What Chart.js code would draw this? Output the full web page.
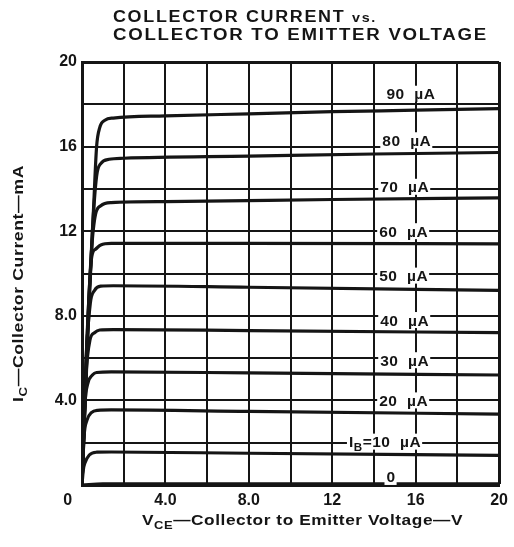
<!DOCTYPE html>
<html lang="en">
<head>
<meta charset="UTF-8">
<title>Collector Current vs. Collector to Emitter Voltage</title>
<script src="https://cdn.jsdelivr.net/npm/chart.js"></script>
<style>
  body { margin: 0; background: #fff; }
  canvas { display: block; }
</style>
</head>
<body>
<canvas id="ivChart" width="514" height="547"></canvas>
<script>
// base current of each curve (µA)
const baseCurrents = [90, 80, 70, 60, 50, 40, 30, 20, 10, 0];

// points: [V_CE in V, I_C in mA]
const curve90 = [[0,0],[0.3,8],[0.55,13],[0.7,16],[0.85,16.9],[1.1,17.25],[1.5,17.35],[4,17.45],[8,17.55],[12,17.65],[16,17.72],[20,17.8]];
const curve80 = [[0,0],[0.3,7.5],[0.5,12],[0.7,14.6],[0.9,15.2],[1.3,15.4],[2,15.45],[8,15.55],[14,15.65],[20,15.72]];
const curve70 = [[0,0],[0.25,7],[0.45,11],[0.65,12.8],[0.9,13.2],[1.4,13.35],[4,13.4],[12,13.5],[20,13.58]];
const curve60 = [[0,0],[0.22,6.5],[0.47,10.8],[0.65,11.15],[0.9,11.35],[1.4,11.42],[8,11.42],[20,11.4]];
const curve50 = [[0,0],[0.2,6],[0.4,8.6],[0.6,9.2],[0.9,9.4],[1.5,9.42],[8,9.35],[20,9.2]];
const curve40 = [[0,0],[0.18,5],[0.38,6.85],[0.6,7.2],[0.85,7.33],[1.5,7.35],[8,7.3],[20,7.2]];
const curve30 = [[0,0],[0.14,3.8],[0.28,4.8],[0.5,5.2],[0.7,5.32],[1.4,5.35],[8,5.3],[20,5.2]];
const curve20 = [[0,0],[0.1,2.3],[0.24,3.07],[0.45,3.42],[0.75,3.53],[1.4,3.55],[8,3.48],[20,3.35]];
const curve10 = [[0,0],[0.06,0.7],[0.14,1.04],[0.35,1.42],[0.7,1.55],[1.4,1.56],[8,1.5],[20,1.4]];
const curve0  = [[0,0],[1,0.05],[20,0.05]];
const curves = [curve90, curve80, curve70, curve60, curve50, curve40, curve30, curve20, curve10, curve0];

// tick labels
const xTickValues = [4, 8, 12, 16, 20];
const xTickLabels = ['4.0', '8.0', '12', '16', '20'];
const yTickValues = [4, 8, 12, 16, 20];
const yTickLabels = ['4.0', '8.0', '12', '16', '20'];
const originLabel = '0';

// curve labels, placed in data units (left edge V, centre mA)
const curveLabels = [
  { runs: [['90  µA']], v: 14.6, i: 18.5 },
  { runs: [['80  µA']], v: 14.4, i: 16.3 },
  { runs: [['70  µA']], v: 14.3, i: 14.1 },
  { runs: [['60  µA']], v: 14.25, i: 12.0 },
  { runs: [['50  µA']], v: 14.25, i: 9.9 },
  { runs: [['40  µA']], v: 14.3, i: 7.8 },
  { runs: [['30  µA']], v: 14.3, i: 5.9 },
  { runs: [['20  µA']], v: 14.25, i: 4.0 },
  { runs: [['I'], ['B', 0.75, 4], ['=10  µA']], v: 12.8, i: 2.05 },
  { runs: [['0']], v: 14.6, i: 0.38 }
];

const FONT = '"Liberation Sans", Arial, Helvetica, sans-serif';
const INK = '#151515';

// draws text made of runs [text, scale, dy]; optional target width squeezes/stretches it
function drawRuns(ctx, runs, x, y, size, spacing, targetW) {
  const parts = runs.map(r => {
    const s = (r[1] || 1) * size;
    ctx.font = 'bold ' + s + 'px ' + FONT;
    ctx.letterSpacing = spacing + 'px';
    return { t: r[0], s: s, dy: r[2] || 0, w: ctx.measureText(r[0]).width };
  });
  const total = parts.reduce((a, p) => a + p.w, 0);
  const sx = targetW ? targetW / total : 1;
  ctx.save();
  ctx.translate(x, y);
  ctx.scale(sx, 1);
  ctx.textAlign = 'left';
  ctx.textBaseline = 'alphabetic';
  let cx = 0;
  parts.forEach(p => {
    ctx.font = 'bold ' + p.s + 'px ' + FONT;
    ctx.letterSpacing = spacing + 'px';
    ctx.fillText(p.t, cx, p.dy);
    cx += p.w;
  });
  ctx.restore();
  return total * sx;
}

const textPlugin = {
  id: 'ivText',
  afterDatasetsDraw(chart) {
    const ctx = chart.ctx;
    const xs = chart.scales.x, ys = chart.scales.y;
    ctx.save();
    ctx.fillStyle = INK;

    // curve labels with white boxes over the grid
    curveLabels.forEach(lb => {
      const px = xs.getPixelForValue(lb.v);
      const py = ys.getPixelForValue(lb.i);
      ctx.save();
      ctx.globalAlpha = 0;
      const w = drawRuns(ctx, lb.runs, 0, 0, 15.5, 0.5);
      ctx.restore();
      ctx.fillStyle = '#fff';
      ctx.fillRect(px - 2, py - 8, w + 3, 16);
      ctx.fillStyle = INK;
      drawRuns(ctx, lb.runs, px, py + 5.5, 15.5, 0.5);
    });

    // title
    drawRuns(ctx, [['COLLECTOR CURRENT '], ['vs.', 0.8]], 113, 22, 16, 1.5, 264);
    drawRuns(ctx, [['COLLECTOR TO EMITTER VOLTAGE']], 113, 40, 16, 1.5, 375);

    // x axis title
    drawRuns(ctx, [['V'], ['CE', 0.75, 4], ['\u2014Collector to Emitter Voltage\u2014V']], 142, 525, 15.5, 0.5, 321);

    // y axis title
    ctx.save();
    ctx.translate(23, 402);
    ctx.rotate(-Math.PI / 2);
    drawRuns(ctx, [['I'], ['C', 0.75, 4], ['\u2014Collector Current\u2014mA']], 0, 0, 15.5, 0.5, 237);
    ctx.restore();

    // shared origin label
    ctx.font = 'bold 16px ' + FONT;
    ctx.textAlign = 'center';
    ctx.textBaseline = 'middle';
    ctx.fillText(originLabel, 68, 501);
    ctx.restore();
  }
};

function tickText(values, labels) {
  return v => {
    const k = values.indexOf(v);
    return k < 0 ? '' : labels[k];
  };
}

function gridWidth(max) {
  return c => (c.tick && c.tick.value === max ? 3 : 2);
}

new Chart(document.getElementById('ivChart'), {
  type: 'scatter',
  data: {
    datasets: curves.map((pts, k) => ({
      label: baseCurrents[k] + ' µA',
      data: pts.map(p => ({ x: p[0], y: p[1] })),
      showLine: true,
      borderColor: INK,
      borderWidth: 3.2,
      pointRadius: 0,
      cubicInterpolationMode: 'monotone',
      fill: false
    }))
  },
  options: {
    responsive: false,
    animation: false,
    layout: { padding: { top: 62, right: 9, left: 0, bottom: 0 } },
    plugins: { legend: { display: false }, tooltip: { enabled: false } },
    scales: {
      x: {
        type: 'linear', min: 0, max: 20,
        ticks: {
          stepSize: 2, autoSkip: false, maxRotation: 0, padding: 6,
          color: INK, font: { family: FONT, size: 16, weight: 'bold' },
          callback: tickText(xTickValues, xTickLabels)
        },
        grid: { color: INK, lineWidth: gridWidth(20), drawTicks: false },
        border: { display: true, color: INK, width: 3 },
        afterFit(s) { s.height = 62; }
      },
      y: {
        type: 'linear', min: 0, max: 20,
        ticks: {
          stepSize: 2, autoSkip: false, padding: 5,
          color: INK, font: { family: FONT, size: 16, weight: 'bold' },
          callback: tickText(yTickValues, yTickLabels)
        },
        grid: { color: INK, lineWidth: gridWidth(20), drawTicks: false },
        border: { display: true, color: INK, width: 3 },
        afterFit(s) { s.width = 82; }
      }
    }
  },
  plugins: [textPlugin]
});
</script>
</body>
</html>
